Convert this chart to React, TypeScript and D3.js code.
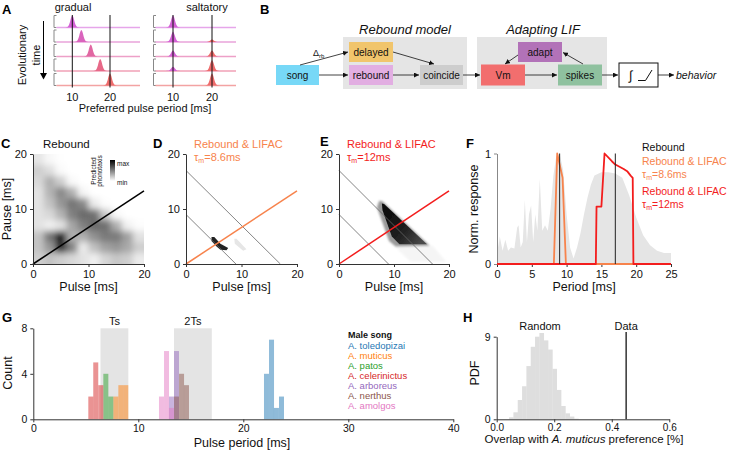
import React, { useEffect, useRef } from 'react';
import * as d3 from 'd3';

const FONT = "'Liberation Sans', Arial, Helvetica, sans-serif";

// ---------- Panel A ----------
const A_GRADUAL_PEAKS = [10, 12.4, 14.9, 17.4, 20];
const A_SALT_AMP_10 = [1, 0.85, 0.5, 0.35, 0];
const A_SALT_AMP_20 = [0, 0.2, 0.5, 0.9, 1];
const A_PEAK_OFFSETS = [-1.8, -1.3, -0.9, -0.55, -0.25, 0, 0.25, 0.55, 0.9, 1.3, 1.8];
const A_PEAK_SHAPE = [0, 0.04, 0.2, 0.55, 0.87, 1, 0.87, 0.55, 0.2, 0.04, 0];
const A_ROW_COLORS = ['#e6a6ea', '#e9a3da', '#eda0c8', '#f0a0b6', '#f3a3a3'];
const A_PEAK_COLOR_RANGE = ['#d462d6', '#ee6c6c'];
const A_TICKS = [10, 20];

// ---------- Panel B ----------
const B_NODES = ['song', 'delayed', 'rebound', 'coincide', 'Vm', 'adapt', 'spikes'];
const B_COLORS = ['#77d8f7', '#f1c56c', '#e2aee2', '#cdcdcd', '#f26e6e', '#b272b8', '#8fc19f'];
const B_GROUPS = ['Rebound model', 'Adapting LIF'];

// ---------- Panel C (predicted phonotaxis, rows: pause 20→0, cols: pulse 0→20) ----------
const C_GRID = [
  [0.18, 0.06, 0.01, 0, 0, 0, 0, 0, 0, 0],
  [0.3, 0.22, 0.04, 0, 0, 0, 0, 0, 0, 0],
  [0.25, 0.42, 0.3, 0.05, 0, 0, 0, 0, 0, 0],
  [0.2, 0.4, 0.55, 0.42, 0.08, 0, 0, 0, 0, 0],
  [0.2, 0.35, 0.5, 0.62, 0.55, 0.15, 0.02, 0, 0, 0],
  [0.2, 0.25, 0.4, 0.58, 0.66, 0.64, 0.32, 0.05, 0, 0],
  [0.2, 0.12, 0.2, 0.45, 0.58, 0.66, 0.64, 0.42, 0.1, 0.02],
  [0.35, 0.62, 0.92, 0.42, 0.42, 0.52, 0.6, 0.6, 0.47, 0.2],
  [0.35, 0.5, 0.85, 0.58, 0.15, 0.36, 0.46, 0.5, 0.44, 0.3],
  [0.3, 0.35, 0.3, 0.25, 0.2, 0.12, 0.26, 0.33, 0.3, 0.15],
];
const PP_TICKS = [0, 10, 20];
const DUTY_LINE = [[0, 0], [20, 13.3]];
const PERIOD_LINES = [9, 17];

// ---------- Panel D / E blobs (pulse, pause) ----------
const D_BLOB = [[4.6, 4.9], [5.1, 4.9], [6.2, 3.7], [7.6, 2.9], [7.3, 2.5], [6.2, 2.6], [5.5, 3.2], [4.6, 4.2]];
const D_FAINT = [[8.7, 4.6], [9.1, 4.6], [10.9, 2.7], [10.3, 2.4], [8.8, 3.7]];
const E_FAINT = [[10, 3.3], [17, 3.3], [19.5, 0.4], [13, 0.4]];
const E_HALO = [[7.3, 11.5], [7.9, 11.4], [16.5, 3.3], [10.3, 3.2], [9.1, 4.2], [6.9, 10.3]];
const E_CORE = [[7.8, 11.0], [8.2, 10.9], [16.0, 3.6], [11.0, 3.6], [9.6, 5.0], [7.9, 9.8]];

// ---------- Panel F ----------
const F_REB_PERIOD = [0, 0.2, 0.4, 0.8, 1.2, 1.6, 2.0, 2.5, 2.9, 3.1, 3.4, 3.7, 4.0, 4.3, 4.6, 4.9, 5.2, 5.5, 5.8, 6.15, 6.5, 6.9, 7.3, 7.7, 8.1, 8.5, 9.0, 9.5, 10.0, 10.5, 11.0, 11.5, 12, 12.5, 13, 13.5, 14, 15, 16, 17, 18, 19, 20, 21, 22, 23, 24, 25];
const F_REB_RESP = [0.42, 0.15, 0.25, 0.12, 0.22, 0.12, 0.15, 0.14, 0.33, 0.35, 0.15, 0.2, 0.58, 0.2, 0.45, 0.53, 0.2, 0.45, 0.3, 0.77, 0.3, 0.35, 0.3, 0.5, 0.8, 0.97, 1.0, 0.85, 0.45, 0.15, 0.05, 0.15, 0.28, 0.45, 0.6, 0.72, 0.8, 0.83, 0.83, 0.82, 0.78, 0.62, 0.42, 0.26, 0.17, 0.12, 0.1, 0.1];
const F_L86_PERIOD = [0, 8.17, 8.65, 9.42, 9.9, 25];
const F_L86_RESP = [0, 0, 1, 0.78, 0, 0];
const F_L12_PERIOD = [0, 14.2, 14.3, 15.0, 15.45, 16.5, 17.0, 17.6, 18.2, 18.7, 19.2, 19.5, 19.6, 25];
const F_L12_RESP = [0, 0, 0.52, 0.52, 1, 0.93, 0.9, 0.88, 0.86, 0.84, 0.8, 0.78, 0, 0];
const F_MARKERS = [9, 17];
const F_XTICKS = [0, 5, 10, 15, 20, 25];
const F_YTICKS = [0, 1];

// ---------- Panel G ----------
const G_SPECIES = ['A. toledopizai', 'A. muticus', 'A. patos', 'A. celerinictus', 'A. arboreus', 'A. nerthus', 'A. amolgos'];
const G_COLORS = ['#1f77b4', '#ff7f0e', '#2ca02c', '#d62728', '#9467bd', '#8c564b', '#e377c2'];
const G_BIN_WIDTH = 0.476;
const G_BIN_LEFT = [
  [21.97, 22.45, 22.92, 23.4],
  [7.62, 8.1, 8.57],
  [6.67, 7.14],
  [5.24, 5.71, 6.19],
  [12.92, 13.4],
  [13.4, 13.88, 14.35],
  [11.97, 12.45, 12.92],
];
const G_COUNTS = [
  [4, 7, 1, 2],
  [2, 3, 3],
  [4, 2],
  [2, 5, 3],
  [2, 6],
  [2, 4, 3],
  [2, 6, 1],
];
const G_BANDS = [{ label: 'Ts', from: 6.4, to: 9.05 }, { label: '2Ts', from: 13.4, to: 17.0 }];
const G_XTICKS = [0, 10, 20, 30, 40];
const G_YTICKS = [0, 4, 8];

// ---------- Panel H ----------
const H_BIN_START = 0.043;
const H_BIN_WIDTH = 0.01506;
const H_PDF = [0.22, 0.76, 2.1, 3.6, 5.8, 7.9, 9.0, 9.4, 8.6, 7.6, 5.5, 3.2, 1.45, 0.65, 0.3, 0.07];
const H_DATA = 0.45;
const H_XTICKS = [0, 0.2, 0.4, 0.6];
const H_YTICKS = [0, 9];

type Sel = d3.Selection<any, any, any, any>;

function text(g: Sel, x: number, y: number, s: string, size = 11, opts: any = {}) {
  const t = g.append('text').attr('x', x).attr('y', y).text(s)
    .attr('font-family', FONT).attr('font-size', size)
    .attr('fill', opts.fill ?? '#111')
    .attr('text-anchor', opts.anchor ?? 'start');
  if (opts.weight) t.attr('font-weight', opts.weight);
  if (opts.italic) t.attr('font-style', 'italic');
  return t;
}

function vtext(g: Sel, x: number, y: number, s: string, size = 12) {
  return g.append('text').attr('transform', `translate(${x},${y}) rotate(-90)`)
    .attr('text-anchor', 'middle').attr('font-family', FONT).attr('font-size', size).attr('fill', '#111').text(s);
}

function tau(g: Sel, x: number, y: number, val: string, color: string, size = 11) {
  const t = g.append('text').attr('x', x).attr('y', y).attr('font-family', FONT).attr('font-size', size).attr('fill', color);
  t.append('tspan').text('τ');
  t.append('tspan').attr('font-size', 7).attr('dy', 2).text('m');
  t.append('tspan').attr('dy', -2).text('=' + val);
}

function styleAxis(ax: Sel, fs: number, color = '#333') {
  ax.attr('font-family', FONT).attr('font-size', fs);
  ax.select('.domain').attr('stroke', color);
  ax.selectAll('.tick line').attr('stroke', color);
  ax.selectAll('.tick text').attr('fill', '#111');
}

function bottomAxis(g: Sel, scale: any, ticks: number[], y: number, fs = 11, fmt: any = d3.format('d'), pad = 3) {
  const ax = g.append('g').attr('transform', `translate(0,${y})`)
    .call(d3.axisBottom(scale).tickValues(ticks).tickSize(3).tickPadding(pad).tickSizeOuter(0).tickFormat(fmt));
  styleAxis(ax, fs);
  return ax;
}
function leftAxis(g: Sel, scale: any, ticks: number[], x: number, fs = 11, color = '#333') {
  const ax = g.append('g').attr('transform', `translate(${x},0)`)
    .call(d3.axisLeft(scale).tickValues(ticks).tickSize(3).tickSizeOuter(0).tickFormat(d3.format('d')));
  styleAxis(ax, fs, color);
  return ax;
}

function letter(g: Sel, x: number, y: number, s: string) {
  text(g, x, y, s, 13, { weight: 'bold', fill: '#000' });
}

function drawA(svg: Sel) {
  const g = svg.append('g');
  letter(g, 2, 14, 'A');
  const peakColor = d3.interpolateRgb(A_PEAK_COLOR_RANGE[0], A_PEAK_COLOR_RANGE[1]);
  const panels = [
    { title: 'gradual', scale: d3.scaleLinear().domain([10, 20]).range([72.3, 110]), x0: 56.5, x1: 140, bx: 54, tx: 73 },
    { title: 'saltatory', scale: d3.scaleLinear().domain([10, 20]).range([173, 212]), x0: 155.5, x1: 236, bx: 153.5, tx: 207 },
  ];
  panels.forEach((p, pi) => {
    text(g, p.tx, 11, p.title, 11, { anchor: 'middle' });
    A_ROW_COLORS.forEach((rc, i) => {
      const base = 27.5 + i * 14.5;
      g.append('path').attr('d', `M${p.bx + 2.5},${base - 12}H${p.bx}V${base}H${p.bx + 2.5}`)
        .attr('fill', 'none').attr('stroke', '#888').attr('stroke-width', 1);
      g.append('line').attr('x1', p.x0).attr('x2', p.x1).attr('y1', base).attr('y2', base)
        .attr('stroke', rc).attr('stroke-width', 1.3);
      const peaks = pi === 0
        ? [{ c: A_GRADUAL_PEAKS[i], a: 1 }]
        : [{ c: 10, a: A_SALT_AMP_10[i] }, { c: 20, a: A_SALT_AMP_20[i] }];
      peaks.filter(pk => pk.a > 0).forEach(pk => {
        const pts = A_PEAK_OFFSETS.map((o, k) => [pk.c + o, A_PEAK_SHAPE[k] * pk.a] as [number, number]);
        const area = d3.area<[number, number]>()
          .x(d => p.scale(d[0])).y0(base).y1(d => base - d[1] * 12).curve(d3.curveMonotoneX);
        g.append('path').attr('d', area(pts) as string).attr('fill', peakColor((pk.c - 10) / 10));
      });
    });
    A_TICKS.forEach(t => {
      g.append('line').attr('x1', p.scale(t)).attr('x2', p.scale(t)).attr('y1', 15).attr('y2', 87.5)
        .attr('stroke', '#111').attr('stroke-width', 1);
      text(g, p.scale(t), 101, String(t), 11, { anchor: 'middle' });
    });
  });
  text(g, 145, 112, 'Preferred pulse period [ms]', 11, { anchor: 'middle' });
  vtext(g, 26, 55, 'Evolutionary', 11);
  vtext(g, 40, 55, 'time', 11);
  g.append('line').attr('x1', 43.5).attr('x2', 43.5).attr('y1', 21).attr('y2', 74).attr('stroke', '#000').attr('stroke-width', 1);
  g.append('path').attr('d', 'M40,73L47,73L43.5,79.5Z').attr('fill', '#000');
}

function drawB(svg: Sel) {
  const g = svg.append('g');
  letter(g, 260, 14, 'B');
  const defs = svg.append('defs');
  defs.append('marker').attr('id', 'arrowB').attr('viewBox', '0 0 6 6').attr('refX', 6).attr('refY', 3)
    .attr('markerWidth', 5).attr('markerHeight', 5).attr('markerUnits', 'userSpaceOnUse').attr('orient', 'auto')
    .append('path').attr('d', 'M0,0L6,3L0,6Z').attr('fill', '#111');
  const groupBoxes = [[343, 37, 124, 52, 405], [477, 37, 130, 52, 543]];
  B_GROUPS.forEach((name, i) => {
    const [x, y, w, h, cx] = groupBoxes[i];
    g.append('rect').attr('x', x).attr('y', y).attr('width', w).attr('height', h).attr('fill', '#e5e5e5');
    text(g, cx, 34, name, 13, { anchor: 'middle', italic: true });
  });
  const layout: Record<string, number[]> = {
    song: [276, 65, 43, 20], delayed: [349, 42, 44, 20], rebound: [349, 65, 44, 20], coincide: [420, 65, 43, 20],
    Vm: [481, 64.5, 44, 21], adapt: [518, 42, 44, 20], spikes: [558, 64.5, 44, 21],
  };
  B_NODES.forEach((n, i) => {
    const [x, y, w, h] = layout[n];
    g.append('rect').attr('x', x).attr('y', y).attr('width', w).attr('height', h).attr('fill', B_COLORS[i]);
    text(g, x + w / 2, y + h / 2 + 3.6, n, 10, { anchor: 'middle' });
  });
  g.append('rect').attr('x', 619).attr('y', 63).attr('width', 39).attr('height', 24).attr('fill', '#fff').attr('stroke', '#111').attr('stroke-width', 1);
  text(g, 629, 80, '∫', 13);
  g.append('path').attr('d', 'M638,80.5L645.5,80.5L652,70').attr('fill', 'none').attr('stroke', '#111').attr('stroke-width', 1);
  text(g, 676, 78.5, 'behavior', 10.5, { italic: true });
  const arrows = [
    [300, 65, 348, 52], [319, 75, 348, 75], [393, 52, 434, 64], [393, 75, 419, 75], [463, 75, 480, 75],
    [525, 75, 557, 75], [583, 64, 563, 52.5], [518, 55, 505, 64], [602, 75, 618, 75], [658, 75, 674, 75],
  ];
  arrows.forEach(([x1, y1, x2, y2]) => {
    g.append('line').attr('x1', x1).attr('y1', y1).attr('x2', x2).attr('y2', y2)
      .attr('stroke', '#111').attr('stroke-width', 0.8).attr('marker-end', 'url(#arrowB)');
  });
  const d = text(g, 313, 56, 'Δ', 9);
  d.append('tspan').attr('font-size', 6).attr('dy', 1.5).text('rb');
}

function ppAxes(g: Sel, x: any, y: any, x0: number, showYLabel: boolean) {
  bottomAxis(g, x, PP_TICKS, 264, 11);
  leftAxis(g, y, PP_TICKS, x0, 11);
  text(g, (x.range()[0] + x.range()[1]) / 2, 291, 'Pulse [ms]', 12.5, { anchor: 'middle' });
  if (showYLabel) vtext(g, 11, 209, 'Pause [ms]', 12.5);
}

function polyPath(x: any, y: any, pts: number[][]) {
  return 'M' + pts.map(p => `${x(p[0])},${y(p[1])}`).join('L') + 'Z';
}

function drawC(svg: Sel) {
  const g = svg.append('g');
  const x = d3.scaleLinear().domain([0, 20]).range([33, 144]);
  const y = d3.scaleLinear().domain([0, 20]).range([264, 154]);
  letter(g, 1, 148, 'C');
  text(g, 43, 148, 'Rebound', 11.5);
  const defs = svg.append('defs');
  defs.append('clipPath').attr('id', 'clipC').append('rect').attr('x', 33).attr('y', 154).attr('width', 111).attr('height', 110);
  defs.append('filter').attr('id', 'blurC').attr('filterUnits', 'userSpaceOnUse')
    .attr('x', 10).attr('y', 130).attr('width', 160).attr('height', 160)
    .append('feGaussianBlur').attr('stdDeviation', 3.2);
  const hg = g.append('g').attr('clip-path', 'url(#clipC)').append('g').attr('filter', 'url(#blurC)');
  const n = C_GRID.length;
  C_GRID.forEach((row, r) => {
    row.forEach((v, c) => {
      let x0 = x(c * 2), x1 = x(c * 2 + 2);
      let y0 = y(20 - r * 2), y1 = y(18 - r * 2);
      if (c === 0) x0 -= 14;
      if (c === row.length - 1) x1 += 14;
      if (r === 0) y0 -= 14;
      if (r === n - 1) y1 += 14;
      hg.append('rect').attr('x', x0).attr('y', y0).attr('width', x1 - x0 + 0.5).attr('height', y1 - y0 + 0.5)
        .attr('fill', d3.interpolateGreys(v));
    });
  });
  g.append('line').attr('x1', x(DUTY_LINE[0][0])).attr('y1', y(DUTY_LINE[0][1]))
    .attr('x2', x(DUTY_LINE[1][0])).attr('y2', y(DUTY_LINE[1][1])).attr('stroke', '#000').attr('stroke-width', 1.5);
  // colorbar
  const grad = defs.append('linearGradient').attr('id', 'cbar').attr('x1', 0).attr('x2', 0).attr('y1', 0).attr('y2', 1);
  grad.append('stop').attr('offset', 0).attr('stop-color', '#000');
  grad.append('stop').attr('offset', 1).attr('stop-color', '#fff');
  g.append('rect').attr('x', 110).attr('y', 160).attr('width', 5).attr('height', 21).attr('fill', 'url(#cbar)');
  text(g, 117, 166, 'max', 6.5);
  text(g, 117, 185, 'min', 6.5);
  vtext(g, 96, 171, 'Predicted', 6.5);
  vtext(g, 102, 171, 'phonotaxis', 6.5);
  ppAxes(g, x, y, 33, true);
}

function periodLines(g: Sel, x: any, y: any) {
  PERIOD_LINES.forEach(k => {
    g.append('line').attr('x1', x(0)).attr('y1', y(k)).attr('x2', x(k)).attr('y2', y(0))
      .attr('stroke', '#666').attr('stroke-width', 0.8);
  });
}

function drawD(svg: Sel) {
  const g = svg.append('g');
  const x = d3.scaleLinear().domain([0, 20]).range([186, 297]);
  const y = d3.scaleLinear().domain([0, 20]).range([264, 154]);
  letter(g, 153, 147.5, 'D');
  text(g, 194, 148, 'Rebound & LIFAC', 11, { fill: '#f7834c' });
  tau(g, 194, 161, '8.6ms', '#f7834c');
  const defs = svg.append('defs');
  defs.append('filter').attr('id', 'blurD').append('feGaussianBlur').attr('stdDeviation', 0.5);
  g.append('path').attr('d', polyPath(x, y, D_FAINT)).attr('fill', '#e6e6e6').attr('filter', 'url(#blurD)');
  g.append('path').attr('d', polyPath(x, y, D_BLOB)).attr('fill', '#222').attr('filter', 'url(#blurD)');
  periodLines(g, x, y);
  g.append('line').attr('x1', x(DUTY_LINE[0][0])).attr('y1', y(DUTY_LINE[0][1]))
    .attr('x2', x(DUTY_LINE[1][0])).attr('y2', y(DUTY_LINE[1][1])).attr('stroke', '#f7834c').attr('stroke-width', 1.5);
  ppAxes(g, x, y, 186, false);
}

function drawE(svg: Sel) {
  const g = svg.append('g');
  const x = d3.scaleLinear().domain([0, 20]).range([339, 449]);
  const y = d3.scaleLinear().domain([0, 20]).range([264, 154]);
  letter(g, 320, 146, 'E');
  text(g, 347, 148, 'Rebound & LIFAC', 11, { fill: '#f31d1d' });
  tau(g, 347, 161, '12ms', '#f31d1d');
  const defs = svg.append('defs');
  defs.append('filter').attr('id', 'blurE').append('feGaussianBlur').attr('stdDeviation', 0.7);
  defs.append('filter').attr('id', 'blurE2').append('feGaussianBlur').attr('stdDeviation', 1.2);
  const gr = defs.append('linearGradient').attr('id', 'gradE').attr('gradientUnits', 'userSpaceOnUse')
    .attr('x1', x(8.5)).attr('y1', y(9)).attr('x2', x(15)).attr('y2', y(3.8));
  gr.append('stop').attr('offset', 0).attr('stop-color', '#0c0c0c');
  gr.append('stop').attr('offset', 0.55).attr('stop-color', '#222');
  gr.append('stop').attr('offset', 1).attr('stop-color', '#4a4a4a');
  g.append('path').attr('d', polyPath(x, y, E_FAINT)).attr('fill', '#f5f5f5').attr('filter', 'url(#blurE2)');
  g.append('path').attr('d', polyPath(x, y, E_HALO)).attr('fill', '#9a9a9a').attr('filter', 'url(#blurE2)');
  g.append('path').attr('d', polyPath(x, y, E_CORE)).attr('fill', 'url(#gradE)').attr('filter', 'url(#blurE)');
  periodLines(g, x, y);
  g.append('line').attr('x1', x(DUTY_LINE[0][0])).attr('y1', y(DUTY_LINE[0][1]))
    .attr('x2', x(DUTY_LINE[1][0])).attr('y2', y(DUTY_LINE[1][1])).attr('stroke', '#f31d1d').attr('stroke-width', 1.5);
  ppAxes(g, x, y, 339, false);
}

function drawF(svg: Sel) {
  const g = svg.append('g');
  const x = d3.scaleLinear().domain([0, 25]).range([497, 671]);
  const y = d3.scaleLinear().domain([0, 1]).range([264, 153.5]);
  letter(g, 466, 148, 'F');
  const area = d3.area<number>().x((_, i) => x(F_REB_PERIOD[i])).y0(y(0)).y1(d => y(d));
  g.append('path').attr('d', area(F_REB_RESP) as string).attr('fill', '#e5e5e5');
  bottomAxis(g, x, F_XTICKS, 264, 11);
  leftAxis(g, y, F_YTICKS, 497, 11, '#888');
  const l86 = d3.line<number>().x((_, i) => x(F_L86_PERIOD[i])).y(d => y(d));
  const l12 = d3.line<number>().x((_, i) => x(F_L12_PERIOD[i])).y(d => y(d));
  g.append('path').attr('d', l86(F_L86_RESP) as string).attr('fill', 'none').attr('stroke', '#f7834c').attr('stroke-width', 1.8).attr('stroke-linejoin', 'round');
  g.append('path').attr('d', l12(F_L12_RESP) as string).attr('fill', 'none').attr('stroke', '#f31d1d').attr('stroke-width', 1.8).attr('stroke-linejoin', 'round');
  F_MARKERS.forEach(m => {
    g.append('line').attr('x1', x(m)).attr('x2', x(m)).attr('y1', y(0)).attr('y2', y(1)).attr('stroke', '#222').attr('stroke-width', 1);
  });
  text(g, 584, 291, 'Period [ms]', 12.5, { anchor: 'middle' });
  vtext(g, 478, 209, 'Norm. response', 12.5);
  text(g, 642, 150.5, 'Rebound', 10.5, { fill: '#111' });
  text(g, 642, 165, 'Rebound & LIFAC', 10.5, { fill: '#f7834c' });
  tau(g, 642, 178, '8.6ms', '#f7834c', 10.5);
  text(g, 642, 195, 'Rebound & LIFAC', 10.5, { fill: '#f31d1d' });
  tau(g, 642, 208, '12ms', '#f31d1d', 10.5);
}

function drawG(svg: Sel) {
  const g = svg.append('g');
  const x = d3.scaleLinear().domain([0, 40]).range([33.3, 453.3]);
  const y = d3.scaleLinear().domain([0, 8]).range([419.3, 328.3]);
  letter(g, 2, 322, 'G');
  G_BANDS.forEach(b => {
    g.append('rect').attr('x', x(b.from)).attr('y', y(8)).attr('width', x(b.to) - x(b.from)).attr('height', y(0) - y(8)).attr('fill', '#e4e4e4');
    text(g, (x(b.from) + x(b.to)) / 2, 325, b.label, 11, { anchor: 'middle' });
  });
  G_SPECIES.forEach((s, si) => {
    G_BIN_LEFT[si].forEach((b, bi) => {
      const c = G_COUNTS[si][bi];
      g.append('rect').attr('x', x(b)).attr('y', y(c)).attr('width', x(b + G_BIN_WIDTH) - x(b)).attr('height', y(0) - y(c))
        .attr('fill', G_COLORS[si]).attr('fill-opacity', 0.5);
    });
  });
  bottomAxis(g, x, G_XTICKS, 419.3, 10.5, d3.format('d'), 2);
  leftAxis(g, y, G_YTICKS, 33.3, 10.5);
  text(g, 242, 447, 'Pulse period [ms]', 12.5, { anchor: 'middle' });
  vtext(g, 12, 373, 'Count', 12.5);
  text(g, 348, 338, 'Male song', 9, { weight: 'bold', fill: '#111' });
  G_SPECIES.forEach((s, si) => {
    text(g, 348, 349 + si * 10, s, 9.5, { fill: G_COLORS[si] });
  });
}

function drawH(svg: Sel) {
  const g = svg.append('g');
  const x = d3.scaleLinear().domain([0, 0.6]).range([496.7, 669.3]);
  const y = d3.scaleLinear().domain([0, 9]).range([419.3, 336.7]);
  letter(g, 463, 322, 'H');
  H_PDF.forEach((v, i) => {
    const b = H_BIN_START + i * H_BIN_WIDTH;
    g.append('rect').attr('x', x(b)).attr('y', y(v)).attr('width', x(b + H_BIN_WIDTH) - x(b) + 0.3).attr('height', y(0) - y(v)).attr('fill', '#dedede');
  });
  bottomAxis(g, x, H_XTICKS, 419.3, 10, d3.format('.1f'), 2);
  leftAxis(g, y, H_YTICKS, 496.7, 10.5);
  g.append('line').attr('x1', x(H_DATA)).attr('x2', x(H_DATA)).attr('y1', y(0)).attr('y2', 332).attr('stroke', '#333').attr('stroke-width', 1.5);
  text(g, 540, 329.5, 'Random', 11, { anchor: 'middle' });
  text(g, x(H_DATA), 329.5, 'Data', 11, { anchor: 'middle' });
  vtext(g, 479, 373, 'PDF', 12.5);
  const t = g.append('text').attr('x', 584).attr('y', 443).attr('text-anchor', 'middle')
    .attr('font-family', FONT).attr('font-size', 11.5).attr('fill', '#111');
  t.append('tspan').text('Overlap with ');
  t.append('tspan').attr('font-style', 'italic').text('A. muticus');
  t.append('tspan').text(' preference [%]');
}

export default function App() {
  const ref = useRef<SVGSVGElement>(null);
  useEffect(() => {
    document.body.style.margin = '0';
    const svg = d3.select(ref.current);
    svg.selectAll('*').remove();
    svg.append('rect').attr('width', 729).attr('height', 451).attr('fill', '#fff');
    drawA(svg);
    drawB(svg);
    drawC(svg);
    drawD(svg);
    drawE(svg);
    drawF(svg);
    drawG(svg);
    drawH(svg);
  }, []);
  return <svg ref={ref} width={729} height={451} style={{ position: 'absolute', left: 0, top: 0 }} />;
}
